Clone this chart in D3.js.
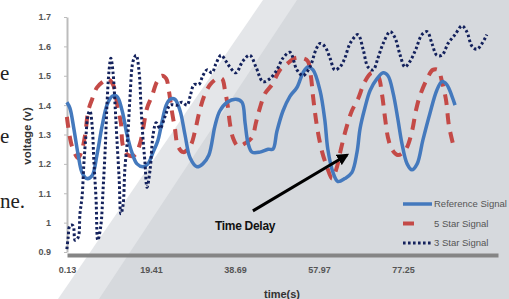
<!DOCTYPE html>
<html>
<head>
<meta charset="utf-8">
<script src="https://cdn.jsdelivr.net/npm/d3@7"></script>
<style>
  body { margin: 0; background: #fff; }
  svg { display: block; }
</style>
</head>
<body>
<div id="chart-area"></div>
<script>
// values
const xTicks = [0.13, 19.41, 38.69, 57.97, 77.25]
const yTicks = [0.9, 1.0, 1.1, 1.2, 1.3, 1.4, 1.5, 1.6, 1.7]

const refTime = [0.1, 0.8, 1.7, 2.7, 3.6, 4.7, 5.9, 7.0, 8.2, 9.3, 10.5, 11.6, 12.8, 13.9, 15.0, 16.2,
  17.6, 18.7, 19.9, 21.0, 21.9, 22.9, 23.8, 24.9, 26.1, 27.2, 28.4, 30.0, 31.3, 32.7, 34.1, 35.2,
  36.9, 38.9, 40.3, 41.0, 41.7, 42.6, 44.4, 46.3, 47.4, 48.3, 49.7, 51.3, 52.9, 54.3, 55.4, 56.6,
  58.2, 59.3, 60.0, 61.2, 62.3, 63.9, 65.5, 66.7, 67.4, 68.5, 69.7, 71.3, 72.7, 73.8, 75.0, 76.1,
  77.0, 78.2, 79.3, 80.5, 81.8, 83.4, 85.0, 86.2, 87.3, 88.5, 89.2]
const refVolt = [1.41, 1.39, 1.32, 1.23, 1.17, 1.15, 1.16, 1.23, 1.33, 1.40, 1.43, 1.43, 1.38, 1.30, 1.24, 1.20,
  1.19, 1.20, 1.24, 1.28, 1.34, 1.40, 1.42, 1.42, 1.38, 1.30, 1.22, 1.19, 1.20, 1.23, 1.33, 1.38,
  1.41, 1.42, 1.41, 1.34, 1.27, 1.24, 1.24, 1.25, 1.25, 1.31, 1.38, 1.43, 1.46, 1.51, 1.53, 1.52,
  1.45, 1.35, 1.25, 1.17, 1.14, 1.15, 1.17, 1.24, 1.32, 1.39, 1.45, 1.49, 1.51, 1.50, 1.44, 1.35,
  1.27, 1.20, 1.18, 1.20, 1.28, 1.37, 1.45, 1.48, 1.47, 1.43, 1.40]

const fiveTime = [0.1, 0.8, 1.5, 2.7, 3.6, 4.3, 5.0, 5.9, 7.0, 8.4, 9.5, 10.7, 11.8, 12.5, 13.0, 14.1,
  15.7, 16.9, 17.6, 18.5, 19.6, 20.8, 21.9, 22.9, 23.5, 24.2, 24.9, 25.6, 26.8, 28.4, 29.5, 30.4,
  31.6, 33.0, 34.6, 35.7, 36.4, 37.1, 37.5, 38.2, 39.4, 41.0, 42.6, 43.5, 44.4, 45.6, 47.2, 49.0,
  50.6, 52.5, 54.3, 55.4, 56.1, 56.6, 57.1, 57.7, 58.7, 59.8, 61.0, 62.1, 63.0, 64.2, 65.5, 66.9,
  68.5, 70.1, 71.5, 72.4, 73.1, 73.8, 74.7, 76.1, 77.9, 79.3, 80.2, 81.1, 82.8, 84.1, 85.3, 86.2,
  87.1, 87.8, 88.7]
const fiveVolt = [1.36, 1.29, 1.25, 1.22, 1.25, 1.30, 1.38, 1.42, 1.46, 1.48, 1.49, 1.47, 1.39, 1.34, 1.26, 1.23,
  1.23, 1.27, 1.32, 1.39, 1.43, 1.48, 1.50, 1.49, 1.45, 1.38, 1.32, 1.26, 1.24, 1.26, 1.31, 1.37,
  1.43, 1.47, 1.49, 1.49, 1.45, 1.39, 1.34, 1.29, 1.26, 1.27, 1.29, 1.34, 1.39, 1.44, 1.47, 1.52,
  1.54, 1.56, 1.56, 1.55, 1.50, 1.43, 1.37, 1.31, 1.24, 1.19, 1.15, 1.19, 1.25, 1.32, 1.38, 1.42,
  1.48, 1.51, 1.50, 1.44, 1.36, 1.29, 1.25, 1.23, 1.25, 1.31, 1.38, 1.43, 1.49, 1.52, 1.52, 1.48,
  1.42, 1.33, 1.27]

const threeTime = [0.1, 0.4, 0.8, 1.5, 2.0, 2.7, 3.1, 3.6, 4.0, 4.5, 5.0, 5.4, 5.9, 6.3, 6.8, 7.2,
  7.9, 8.4, 8.9, 9.3, 9.8, 10.2, 10.7, 11.2, 11.6, 12.1, 12.5, 13.0, 13.4, 14.1, 14.6, 15.3,
  16.0, 16.7, 17.1, 17.6, 18.0, 18.5, 19.2, 19.9, 20.6, 21.5, 22.6, 23.8, 25.4, 26.5, 27.7, 28.4,
  29.3, 30.4, 31.3, 32.3, 33.4, 34.3, 35.5, 36.6, 37.5, 38.9, 40.5, 42.1, 43.5, 45.1, 46.7, 48.3,
  49.7, 51.3, 52.9, 54.3, 55.9, 57.3, 58.2, 59.3, 60.5, 61.6, 62.8, 63.9, 65.1, 66.9, 68.1, 69.2,
  70.4, 71.5, 72.7, 74.3, 75.4, 76.6, 77.7, 78.9, 80.2, 81.6, 82.8, 83.9, 85.0, 86.2, 87.6, 89.2,
  90.8, 91.9, 93.1, 94.2, 95.4, 96.5]
const threeVolt = [0.91, 0.95, 0.99, 0.99, 0.94, 0.95, 1.03, 1.09, 1.20, 1.30, 1.37, 1.38, 1.33, 1.21, 1.08, 0.94,
  0.99, 1.11, 1.25, 1.40, 1.52, 1.56, 1.51, 1.39, 1.28, 1.15, 1.03, 1.06, 1.18, 1.30, 1.43, 1.55,
  1.57, 1.51, 1.40, 1.28, 1.21, 1.12, 1.18, 1.30, 1.34, 1.32, 1.36, 1.40, 1.40, 1.41, 1.40, 1.43,
  1.47, 1.47, 1.50, 1.52, 1.51, 1.54, 1.57, 1.55, 1.53, 1.51, 1.55, 1.57, 1.53, 1.48, 1.49, 1.52,
  1.56, 1.58, 1.52, 1.50, 1.53, 1.59, 1.61, 1.60, 1.56, 1.52, 1.53, 1.56, 1.61, 1.64, 1.59, 1.53,
  1.52, 1.56, 1.61, 1.65, 1.63, 1.57, 1.53, 1.55, 1.59, 1.64, 1.65, 1.61, 1.57, 1.57, 1.61, 1.64,
  1.67, 1.65, 1.60, 1.59, 1.61, 1.64]

const seriesNames = ["Reference Signal", "5 Star Signal", "3 Star Signal"]
// arrow pointing at the delay: [time, voltage] start and end, label spot
const arrowFrom = [42.8, 1.04], arrowTo = [64.4, 1.23], delayLabel = [34.1, 0.975]

const W = 509, H = 299
const margin = { top: 17, right: 11, bottom: 47, left: 67 }
const width = W - margin.left - margin.right,
      height = H - margin.top - margin.bottom

const svg = d3.select("#chart-area").append("svg")
    .attr("width", W)
    .attr("height", H)

// page background: white paper with two grey diagonal bands
svg.append("rect").attr("width", W).attr("height", H).attr("fill", "#ffffff")
svg.append("polygon").attr("points", "263,0 509,0 509,299 58,299").attr("fill", "#e4e6e9")
svg.append("polygon").attr("points", "297,0 509,0 509,299 99,299").attr("fill", "#d6d9dd")

// bits of the surrounding paper text
const paper = [["e", 0, 80], ["e", 0, 143], ["ne.", 0, 208]]
svg.selectAll("text.paper").data(paper).enter().append("text")
    .attr("class", "paper")
    .attr("x", d => d[1]).attr("y", d => d[2])
    .attr("font-family", "Liberation Serif")
    .attr("font-size", "21px")
    .attr("fill", "#222")
    .text(d => d[0])

const g = svg.append("g")
    .attr("transform", "translate(" + margin.left + "," + margin.top + ")")

const x = d3.scaleLinear()
    .domain([0.13, 99.06])
    .range([0, width])

const y = d3.scaleLinear()
    .domain([0.9, 1.7])
    .range([height, 0])

// axes
const yAxisCall = d3.axisLeft(y)
    .tickValues(yTicks)
    .tickSize(3)
    .tickSizeOuter(0)
    .tickPadding(13)
    .tickFormat(d => +d.toFixed(1))
const yAx = g.append("g").attr("class", "y-axis").call(yAxisCall)
yAx.select(".domain").attr("stroke", "#bcbcbc").attr("stroke-width", 2)
yAx.selectAll(".tick line").attr("stroke", "#bcbcbc")
yAx.selectAll("text")
    .attr("font-family", "Liberation Sans")
    .attr("font-size", "9px")
    .attr("font-weight", "bold")
    .attr("fill", "#555")

const xAxisCall = d3.axisBottom(x)
    .tickValues(xTicks)
    .tickSize(0)
    .tickPadding(12)
    .tickFormat(d => d)
const xAx = g.append("g")
    .attr("class", "x axis")
    .attr("transform", "translate(0," + (height + 3) + ")")
    .call(xAxisCall)
xAx.select(".domain").attr("stroke", "#858585").attr("stroke-width", 4)
xAx.selectAll("text")
    .attr("font-family", "Liberation Sans")
    .attr("font-size", "9px")
    .attr("font-weight", "bold")
    .attr("fill", "#555")

// axis titles
g.append("text")
    .attr("x", -119)
    .attr("y", -36)
    .attr("transform", "rotate(-90)")
    .attr("text-anchor", "middle")
    .attr("font-family", "Liberation Sans")
    .attr("font-size", "11.5px")
    .attr("font-weight", "bold")
    .attr("fill", "#333")
    .text("voltage (v)")

g.append("text")
    .attr("x", 215)
    .attr("y", height + 46)
    .attr("text-anchor", "middle")
    .attr("font-family", "Liberation Sans")
    .attr("font-size", "11px")
    .attr("font-weight", "bold")
    .attr("fill", "#333")
    .text("time(s)")

// series
const line = d3.line()
    .x(d => x(d[0]))
    .y(d => y(d[1]))
    .curve(d3.curveCatmullRom)

const series = [
  { name: seriesNames[0], pts: d3.zip(refTime, refVolt), color: "#4479bd", w: 3.5, dash: null },
  { name: seriesNames[1], pts: d3.zip(fiveTime, fiveVolt), color: "#c44a47", w: 4, dash: "11,8" },
  { name: seriesNames[2], pts: d3.zip(threeTime, threeVolt), color: "#13215c", w: 3, dash: "2.6,2.4" }
]

g.selectAll("path.series")
    .data([series[1], series[0], series[2]])
    .enter().append("path")
    .attr("class", "series")
    .attr("d", d => line(d.pts))
    .attr("fill", "none")
    .attr("stroke", d => d.color)
    .attr("stroke-width", d => d.w)
    .attr("stroke-dasharray", d => d.dash)
    .attr("stroke-linejoin", "round")

// time delay annotation
svg.append("defs").append("marker")
    .attr("id", "head")
    .attr("viewBox", "0 0 10 10")
    .attr("refX", 8).attr("refY", 5)
    .attr("markerWidth", 4).attr("markerHeight", 4)
    .attr("orient", "auto")
  .append("path")
    .attr("d", "M0,0 L10,5 L0,10 z")
    .attr("fill", "#000")

g.append("line")
    .attr("x1", x(arrowFrom[0])).attr("y1", y(arrowFrom[1]))
    .attr("x2", x(arrowTo[0])).attr("y2", y(arrowTo[1]))
    .attr("stroke", "#000")
    .attr("stroke-width", 3)
    .attr("marker-end", "url(#head)")

g.append("text")
    .attr("x", x(delayLabel[0]))
    .attr("y", y(delayLabel[1]))
    .attr("font-family", "Liberation Sans")
    .attr("font-size", "12px")
    .attr("font-weight", "bold")
    .attr("letter-spacing", "-0.3px")
    .attr("fill", "#111")
    .text("Time Delay")

// legend
const legend = g.append("g").attr("transform", "translate(336,187)")
const items = legend.selectAll("g").data(series).enter().append("g")
    .attr("transform", (d, i) => "translate(0," + i * 19.5 + ")")
items.append("line")
    .attr("x1", 0).attr("x2", (d, i) => i == 1 ? 15 : 29)
    .attr("stroke", d => d.color)
    .attr("stroke-width", d => d.w)
    .attr("stroke-dasharray", d => d.dash)
items.append("text")
    .attr("x", 31).attr("dy", "0.35em")
    .attr("font-family", "Liberation Sans")
    .attr("font-size", "9.5px")
    .attr("fill", "#555")
    .text(d => d.name)
</script>
</body>
</html>
